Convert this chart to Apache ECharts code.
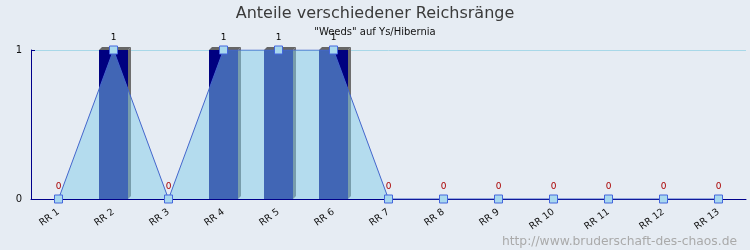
<!DOCTYPE html>
<html><head><meta charset="utf-8">
<script src="https://cdn.jsdelivr.net/npm/echarts@6/dist/echarts.min.js"></script>
<style>html,body{margin:0;padding:0;background:#E6ECF3}#c{width:750px;height:250px}</style>
</head><body><div id="c"></div>
<script>
const categories = ['RR 1','RR 2','RR 3','RR 4','RR 5','RR 6','RR 7','RR 8','RR 9','RR 10','RR 11','RR 12','RR 13'];
const barValues = [0,1,0,1,1,1,0,0,0,0,0,0,0];
const lineValues = [0,1,0,1,1,1,0,0,0,0,0,0,0];
const yTicks = [0,1];

const chart = echarts.init(document.getElementById('c'));
const NAVY = '#00008B';
chart.setOption({
  backgroundColor: '#E6ECF3',
  animation: false,
  title: [
    {text: 'Anteile verschiedener Reichsränge', left: 'center', top: 1,
     textStyle: {fontFamily: 'DejaVu Sans', fontSize: 16, fontWeight: 'normal', color: '#3A3A3A'}},
    {text: '"Weeds" auf Ys/Hibernia', left: 'center', top: 22,
     textStyle: {fontFamily: 'DejaVu Sans', fontSize: 10, fontWeight: 'normal', color: '#111'}},
    {text: 'http://www.bruderschaft-des-chaos.de', right: 8, top: 231,
     textStyle: {fontFamily: 'DejaVu Sans', fontSize: 12.3, fontWeight: 'normal', color: '#AAAAAA'}}
  ],
  grid: {left: 31, right: 4, top: 50, bottom: 51},
  xAxis: {
    type: 'category', data: categories, boundaryGap: true,
    axisLine: {lineStyle: {color: NAVY, width: 1}},
    axisTick: {inside: true, length: 5, lineStyle: {color: NAVY}},
    axisLabel: {rotate: 36, fontSize: 9.5, color: '#111', fontFamily: 'DejaVu Sans', margin: 12}
  },
  yAxis: {
    type: 'value', min: yTicks[0], max: yTicks[yTicks.length-1], interval: 1,
    axisLine: {show: true, lineStyle: {color: NAVY}},
    axisTick: {show: true, inside: true, length: 4, lineStyle: {color: NAVY}},
    axisLabel: {fontSize: 10, color: '#111', fontFamily: 'DejaVu Sans', margin: 9},
    splitLine: {show: true, lineStyle: {color: '#A8D8E8', width: 1}}
  },
  series: [
    {
      type: 'custom', z: 2,
      data: barValues.map((v, i) => [i, v]),
      renderItem: function (params, api) {
        const v = api.value(1);
        if (!v) return null;
        const top = api.coord([api.value(0), v]);
        const base = api.coord([api.value(0), 0]);
        const bw = api.size([1, 0])[0] * 0.53;
        const x0 = Math.round(top[0] - bw / 2), x1 = Math.round(top[0] + bw / 2), d = 3;
        return {type: 'group', children: [
          {type: 'polygon', shape: {points: [[x1, top[1]], [x1 + d, top[1] - d], [x1 + d, base[1] - d], [x1, base[1]]]}, style: {fill: '#6E6E6E'}},
          {type: 'polygon', shape: {points: [[x0, top[1]], [x0 + d, top[1] - d], [x1 + d, top[1] - d], [x1, top[1]]]}, style: {fill: '#666666'}},
          {type: 'rect', shape: {x: x0, y: top[1], width: x1 - x0, height: base[1] - top[1]}, style: {fill: '#000080'}}
        ]};
      }
    },
    {
      type: 'line', z: 3,
      data: lineValues.map(v => ({value: v, label: {color: v ? '#000' : '#AA0000'}})),
      symbol: 'rect', symbolSize: 8,
      itemStyle: {color: '#A8D8EE', borderColor: '#4466DD', borderWidth: 1},
      lineStyle: {color: '#4466CC', width: 1},
      areaStyle: {color: 'rgba(130,204,233,0.5)', opacity: 1},
      label: {show: true, position: 'top', distance: 3, fontSize: 9, fontFamily: 'DejaVu Sans'}
    }
  ]
});
</script></body></html>
